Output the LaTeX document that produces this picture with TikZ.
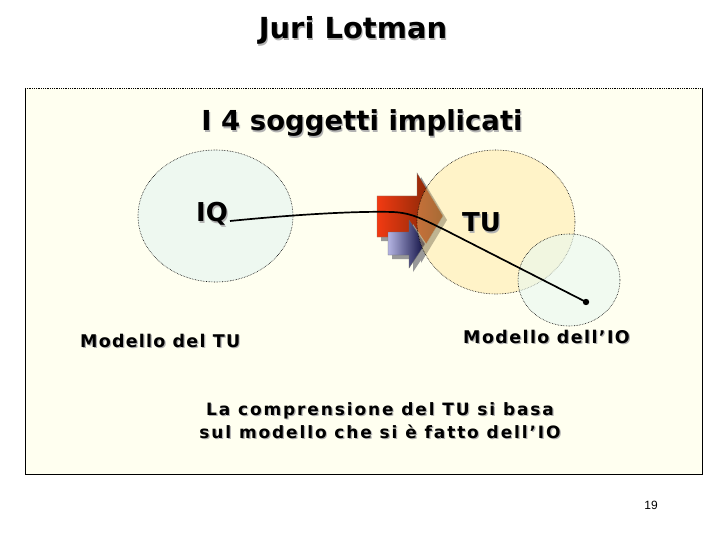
\documentclass[tikz,border=0pt]{standalone}
\usepackage{fontspec}
\setmainfont{DejaVu Sans}
\newfontfamily\numfont{Liberation Sans}
\definecolor{bgbox}{HTML}{FFFFF0}
\definecolor{iqfill}{HTML}{EEF8F0}
\definecolor{tufill}{HTML}{FFE088}
\definecolor{iofill}{HTML}{E8F8F0}
\definecolor{redL}{HTML}{F23A12}
\definecolor{redM}{HTML}{DC3A10}
\definecolor{redR}{HTML}{702404}
\definecolor{bluL}{HTML}{B4B4E2}
\definecolor{bluM}{HTML}{4A4A98}
\definecolor{bluR}{HTML}{0C0C40}
\newcommand{\shd}[1]{\makebox[0pt][l]{\kern1.2pt\raisebox{-1.2pt}{\textcolor{black!30}{#1}}}#1}
\tikzset{
  bubble/.style={densely dotted, line width=0.6pt, draw=black},
  lbl/.style={inner sep=0pt, anchor=base, font=\bfseries},
  arrowshadow/.style={fill=black!40, draw=none},
}
\begin{document}
\begin{tikzpicture}[x=1pt,y=-1pt]
\useasboundingbox (0,0) rectangle (720,540);
\fill[white] (0,0) rectangle (720,540);
% main box
\fill[bgbox] (25,88) rectangle (702,474);
\draw[line width=0.8pt] (25,88) -- (25,474) -- (702,474) -- (702,88);
\draw[densely dotted, line width=0.8pt] (25,88) -- (702,88);
% title
\node[lbl, font=\bfseries\fontsize{29}{32}\selectfont] (title) at (353,39) {\shd{Juri Lotman}};
\node[lbl, font=\bfseries\fontsize{27.5}{30}\selectfont] (sub) at (362,131) {\shd{I 4 soggetti implicati}};
% IQ circle
\draw[bubble, fill=iqfill] (215.5,216) ellipse [x radius=77.5, y radius=66];
% arrows
\fill[arrowshadow] ([shift={(4,4)}]377,196) -- ([shift={(4,4)}]417,196) -- ([shift={(4,4)}]417,173) -- ([shift={(4,4)}]443,216) -- ([shift={(4,4)}]417,259) -- ([shift={(4,4)}]417,237) -- ([shift={(4,4)}]377,237) -- cycle;
\shade[left color=redL, middle color=redM, right color=redR, draw=black!50, line width=0.3pt] (377,196) -- (417,196) -- (417,173) -- (443,216) -- (417,259) -- (417,237) -- (377,237) -- cycle;
\fill[arrowshadow] ([shift={(4,4)}]388,232) -- ([shift={(4,4)}]409,232) -- ([shift={(4,4)}]409,220) -- ([shift={(4,4)}]425,244) -- ([shift={(4,4)}]409,268) -- ([shift={(4,4)}]409,255) -- ([shift={(4,4)}]388,255) -- cycle;
\shade[left color=bluL, middle color=bluM, right color=bluR, draw=black!60, line width=0.3pt] (388,232) -- (409,232) -- (409,220) -- (425,244) -- (409,268) -- (409,255) -- (388,255) -- cycle;
% TU circle
\draw[bubble, fill=tufill, fill opacity=0.38] (496,222) ellipse [x radius=79, y radius=72];
% IO circle
\draw[bubble, fill=iofill, fill opacity=0.6] (569,280) ellipse [x radius=51, y radius=46];
% labels
\node[lbl, anchor=base west, font=\bfseries\fontsize{26}{28}\selectfont] (iq) at (196,222) {\shd{IQ}};
\node[lbl, anchor=base west, font=\bfseries\fontsize{26}{28}\selectfont] (tu) at (462,232) {\shd{TU}};
\node[lbl, anchor=base west, font=\bfseries\fontsize{17.5}{20}\selectfont\addfontfeatures{LetterSpace=7}] (mtu) at (80,347) {\shd{Modello del TU}};
\node[lbl, anchor=base west, font=\bfseries\fontsize{17.5}{20}\selectfont\addfontfeatures{LetterSpace=8}] (mio) at (463,343) {\shd{Modello dell’IO}};
\node[lbl, font=\bfseries\fontsize{17}{20}\selectfont\addfontfeatures{LetterSpace=11}] (c1) at (380,415) {\shd{La comprensione del TU si basa}};
\node[lbl, font=\bfseries\fontsize{17}{20}\selectfont\addfontfeatures{LetterSpace=11}] (c2) at (380,438) {\shd{sul modello che si è fatto dell’IO}};
\node[inner sep=0pt, anchor=base, font=\numfont\fontsize{12}{14}\selectfont] (pg) at (651,509) {19};
% connector
\coordinate (lstart) at (230,221);
\coordinate (dot) at (586,302);
\draw[line width=1.7pt] (lstart) .. controls (300,214) and (360,211) .. (393,212) .. controls (413,213) and (424,220) .. (445,230) -- (dot);
\fill (dot) circle [radius=3.2];
\end{tikzpicture}
\end{document}
